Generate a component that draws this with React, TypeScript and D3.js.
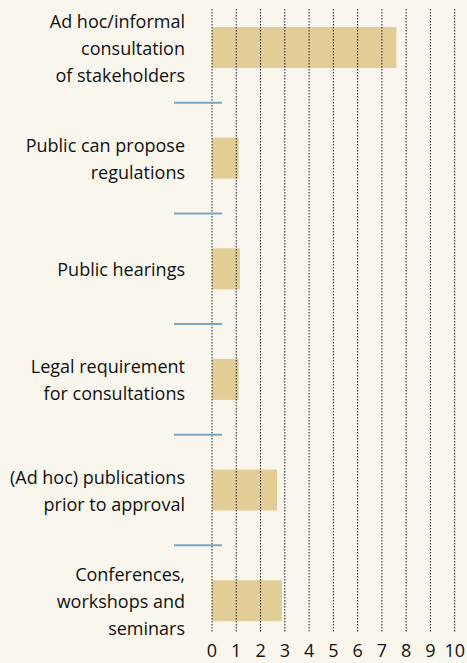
import React from "react";
import * as d3 from "d3";

const categories = [
  ["Ad hoc/informal", "consultation", "of stakeholders"],
  ["Public can propose", "regulations"],
  ["Public hearings"],
  ["Legal requirement", "for consultations"],
  ["(Ad hoc) publications", "prior to approval"],
  ["Conferences,", "workshops and", "seminars"],
];
const values = [7.6, 1.1, 1.15, 1.1, 2.68, 2.88];
const ticks = [0, 1, 2, 3, 4, 5, 6, 7, 8, 9, 10];

const W = 467;
const H = 663;
const FONT = "'Open Sans', sans-serif";

export default function App() {
  const x = d3.scaleLinear().domain([0, 10]).range([212, 454.7]);
  const ids = categories.map((_, i) => String(i));
  const y = d3.scaleBand().domain(ids).range([-7.8, 656]).padding(0);
  const step = y.step();
  const barH = 41;
  const lineH = 27;

  return (
    <div style={{ position: "fixed", left: 0, top: 0, width: W, height: H }}>
      <svg width={W} height={H} style={{ display: "block" }}>
        <rect x={0} y={0} width={W} height={H} fill="#f9f6ee" />
        {values.map((v, i) => {
          const cy = (y(String(i)) as number) + step / 2;
          return (
            <rect
              key={"b" + i}
              x={x(0)}
              y={cy - barH / 2}
              width={x(v) - x(0)}
              height={barH}
              fill="#e2cd96"
            />
          );
        })}
        {ticks.map((t) => (
          <line
            key={"g" + t}
            x1={x(t)}
            x2={x(t)}
            y1={9}
            y2={632}
            stroke="#222"
            strokeWidth={1}
            strokeDasharray="1.5,1.5"
          />
        ))}
        {categories.slice(1).map((_, i) => {
          const yy = y(String(i + 1)) as number;
          return (
            <line
              key={"s" + i}
              x1={174}
              x2={222}
              y1={yy}
              y2={yy}
              stroke="#7aa6c2"
              strokeWidth={2}
            />
          );
        })}
        {categories.map((lines, i) => {
          const cy = (y(String(i)) as number) + step / 2;
          const n = lines.length;
          return (
            <text
              key={"l" + i}
              textAnchor="end"
              fontFamily={FONT}
              fontSize={18}
              fill="#111"
            >
              {lines.map((ln, j) => (
                <tspan key={j} x={185} y={cy + 7 + (j - (n - 1) / 2) * lineH}>
                  {ln}
                </tspan>
              ))}
            </text>
          );
        })}
        {ticks.map((t) => (
          <text
            key={"t" + t}
            x={x(t)}
            y={657}
            textAnchor="middle"
            fontFamily={FONT}
            fontSize={18}
            fill="#111"
          >
            {t}
          </text>
        ))}
      </svg>
    </div>
  );
}
